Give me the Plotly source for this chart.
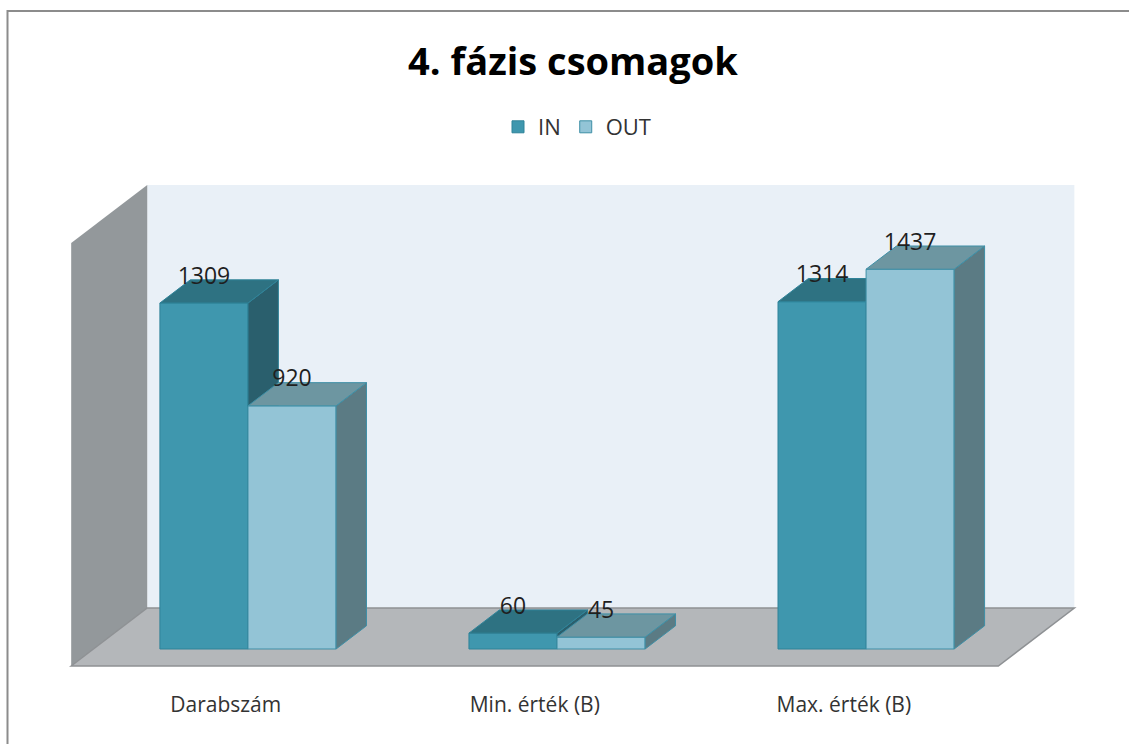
import plotly.graph_objects as go

# ---- data -------------------------------------------------------------
categories = ["Darabszám", "Min. érték (B)", "Max. érték (B)"]
series_names = ["IN", "OUT"]
in_values = [1309, 60, 1314]
out_values = [920, 45, 1437]

# ---- oblique 3D look ---------------------------------------------------
BAR_W = 0.285          # width of one column (x units)
DEPTH_DX = 0.246       # x shift per unit of depth
DEPTH_DY = 219.4       # y shift per unit of depth (value units)
BAR_DEPTH = 0.4        # depth of a column
FLOOR_FRONT = -0.293   # depth of the floor's front edge
BACK_WALL = 0.707      # depth of the back wall
WALL_TOP = 1600        # top of the walls (value units)
X_LEFT, X_RIGHT = -0.5, 2.5
LABEL_LIFT = 95        # data label centre above the column top

X_RANGE = [-0.673, 2.786]
Y_RANGE = [-155.1, 1812.3]
MARGIN = dict(l=40, r=20, t=170, b=54)
W, H = 1129, 744

FONT = "Open Sans"

styles = {
    "IN": dict(front="#3F97AE", top="#2E7282", side="#2A5F6D", edge="#2F8399"),
    "OUT": dict(front="#93C4D6", top="#6D96A1", side="#5B7B84", edge="#3E8FA6"),
}


def proj(x, v, z):
    """Project a point (x, value, depth) onto the 2D axes."""
    return x + z * DEPTH_DX, v + z * DEPTH_DY


def poly(points):
    xs, ys = zip(*[proj(*p) for p in points])
    return list(xs) + [xs[0]], list(ys) + [ys[0]]


def path(points):
    pts = [proj(*p) for p in points]
    return "M " + " L ".join(f"{x},{y}" for x, y in pts) + " Z"


def px2paper(px, py):
    pw = W - MARGIN["l"] - MARGIN["r"]
    ph = H - MARGIN["t"] - MARGIN["b"]
    return (px - MARGIN["l"]) / pw, (H - MARGIN["b"] - py) / ph


fig = go.Figure()

series = [("IN", in_values, -1, "x", "y"), ("OUT", out_values, 1, "x2", "y2")]

for name, values, side, xa, ya in series:
    st = styles[name]
    centers = [i + side * BAR_W / 2 for i in range(len(categories))]
    # front faces
    fig.add_trace(go.Bar(
        x=centers, y=values, width=BAR_W, name=name,
        marker=dict(color=st["front"], line=dict(color=st["edge"], width=1)),
        xaxis=xa, yaxis=ya, hoverinfo="skip",
    ))
    # top and side faces
    for c, v in zip(centers, values):
        xl, xr = c - BAR_W / 2, c + BAR_W / 2
        top = [(xl, v, 0), (xr, v, 0), (xr, v, BAR_DEPTH), (xl, v, BAR_DEPTH)]
        rside = [(xr, 0, 0), (xr, v, 0), (xr, v, BAR_DEPTH), (xr, 0, BAR_DEPTH)]
        for face, col in ((rside, st["side"]), (top, st["top"])):
            fx, fy = poly(face)
            fig.add_trace(go.Scatter(
                x=fx, y=fy, mode="lines", fill="toself", fillcolor=col,
                line=dict(color=st["edge"], width=1), showlegend=False,
                hoverinfo="skip", xaxis=xa, yaxis=ya,
            ))

# data labels, drawn last so they sit on top
for name, values, side, _, _ in series:
    centers = [i + side * BAR_W / 2 for i in range(len(categories))]
    fig.add_trace(go.Scatter(
        x=centers, y=[v + LABEL_LIFT for v in values], mode="text",
        text=[str(v) for v in values], textposition="middle center",
        textfont=dict(family=FONT, size=23, color="#1F1F1F"),
        showlegend=False, hoverinfo="skip", xaxis="x2", yaxis="y2",
    ))

# walls and floor
floor = [(X_LEFT, 0, FLOOR_FRONT), (X_LEFT, 0, BACK_WALL),
         (X_RIGHT, 0, BACK_WALL), (X_RIGHT, 0, FLOOR_FRONT)]
back_wall = [(X_LEFT, 0, BACK_WALL), (X_LEFT, WALL_TOP, BACK_WALL),
             (X_RIGHT, WALL_TOP, BACK_WALL), (X_RIGHT, 0, BACK_WALL)]
left_wall = [(X_LEFT, 0, FLOOR_FRONT), (X_LEFT, WALL_TOP, FLOOR_FRONT),
             (X_LEFT, WALL_TOP, BACK_WALL), (X_LEFT, 0, BACK_WALL)]

shapes = [
    dict(type="path", path=path(back_wall), xref="x", yref="y", layer="below",
         fillcolor="#E9F0F7", line=dict(width=0)),
    dict(type="path", path=path(left_wall), xref="x", yref="y", layer="below",
         fillcolor="#93989B", line=dict(width=0)),
    dict(type="path", path=path(floor), xref="x", yref="y", layer="below",
         fillcolor="#B4B7BA", line=dict(color="#8E9194", width=1.5)),
]

# chart frame (left and top edges)
fx0, fy0 = px2paper(7.5, H)
fx1, fy1 = px2paper(7.5, 11)
fx2, _ = px2paper(W, 11)
shapes.append(dict(type="path", xref="paper", yref="paper",
                   path=f"M {fx0},{fy0} L {fx1},{fy1} L {fx2},{fy1}",
                   line=dict(color="#8C8C8C", width=2)))

tick_pos = [proj(i, 0, FLOOR_FRONT)[0] for i in range(len(categories))]
lx, ly = px2paper(577, 127)

fig.update_layout(
    width=W, height=H, autosize=False,
    margin=MARGIN,
    paper_bgcolor="white", plot_bgcolor="white",
    barmode="overlay",
    title=dict(text="<b>4. fázis csomagok</b>", x=573 / W, y=1 - 62 / H,
               xanchor="center", yanchor="middle", xref="container", yref="container",
               font=dict(family=FONT, size=38, color="#000000")),
    legend=dict(orientation="h", x=lx, y=ly, xanchor="center", yanchor="middle",
                font=dict(family=FONT, size=22, color="#333333"),
                bgcolor="rgba(0,0,0,0)", traceorder="normal", itemwidth=30),
    xaxis=dict(range=X_RANGE, tickvals=tick_pos, ticktext=categories,
               showgrid=False, zeroline=False, showline=False, ticks="",
               tickfont=dict(family=FONT, size=21, color="#333333")),
    yaxis=dict(range=Y_RANGE, showgrid=False, zeroline=False, showline=False,
               showticklabels=False),
    xaxis2=dict(range=X_RANGE, overlaying="x", visible=False),
    yaxis2=dict(range=Y_RANGE, overlaying="y", visible=False),
    shapes=shapes,
)

fig.write_html("out.html")
